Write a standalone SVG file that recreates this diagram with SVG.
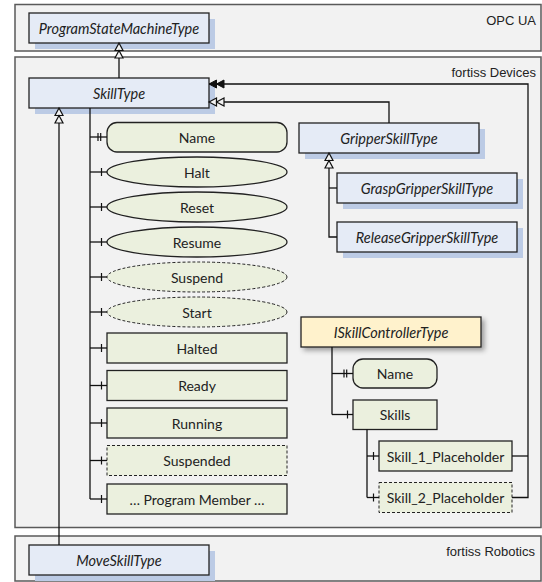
<svg xmlns="http://www.w3.org/2000/svg" width="542" height="582" viewBox="0 0 542 582">
<style>
.cont{fill:#f2f2f2;stroke:#5a5a5a;stroke-width:1.5}
.clabel{font-family:"Liberation Sans",Arial,sans-serif;font-size:13px;fill:#222;text-anchor:end}
.type{fill:#e5ebf6;stroke:#222;stroke-width:1.3}
.shadow{fill:#bccbe5}
.mem{fill:#ebf0de;stroke:#222;stroke-width:1.3}
.dash{stroke-dasharray:3 2;stroke-width:1}
.it{font-family:Lato,"Liberation Sans",sans-serif;font-style:italic;font-size:14.5px;fill:#222;text-anchor:middle;dominant-baseline:central}
.lb{font-family:Lato,"Liberation Sans",sans-serif;font-size:14px;fill:#222;text-anchor:middle;dominant-baseline:central}
.ln{fill:none;stroke:#111;stroke-width:1.3}
</style>
<defs>
<marker id="sub" markerUnits="userSpaceOnUse" markerWidth="20" markerHeight="20" refX="16" refY="10" orient="auto" overflow="visible">
<path d="M16 10L8.5 6V14ZM8.5 10L1 6V14Z" fill="#f2f2f2" stroke="#111" stroke-width="1.2" stroke-linejoin="miter"/>
</marker>
<marker id="ref" markerUnits="userSpaceOnUse" markerWidth="20" markerHeight="20" refX="16" refY="10" orient="auto" overflow="visible">
<path d="M16 10L8.5 6V14ZM8.5 10L1 6V14Z" fill="#111" stroke="#111" stroke-width="1"/>
</marker>
<marker id="prop" markerUnits="userSpaceOnUse" markerWidth="20" markerHeight="20" refX="10" refY="10" orient="auto" overflow="visible">
<path d="M1 6V14M3.7 6V14" stroke="#111" stroke-width="1.2"/>
</marker>
<marker id="comp" markerUnits="userSpaceOnUse" markerWidth="20" markerHeight="20" refX="10" refY="10" orient="auto" overflow="visible">
<path d="M4.5 6V14" stroke="#111" stroke-width="1.2"/>
</marker>
<filter id="ds" x="-10%" y="-30%" width="130%" height="180%">
<feDropShadow dx="3" dy="3" stdDeviation="2.5" flood-color="#000" flood-opacity="0.35"/>
</filter>
</defs>

<g id="opcua">
<rect class="cont" x="15" y="4.5" width="526" height="46.5"/>
<text class="clabel" x="536" y="24.5">OPC UA</text>
</g>
<g id="fortissDevices">
<rect class="cont" x="15" y="57" width="526" height="470.5"/>
<text class="clabel" x="536" y="76.5">fortiss Devices</text>
</g>
<g id="fortissRobotics">
<rect class="cont" x="15" y="536" width="526" height="45"/>
<text class="clabel" x="535" y="555.5">fortiss Robotics</text>
</g>

<g id="ProgramStateMachineType">
<rect class="shadow" x="35" y="19" width="180" height="30"/>
<rect class="type" x="29" y="13" width="180" height="30"/>
<text class="it" x="119" y="28">ProgramStateMachineType</text>
</g>
<g id="SkillType">
<rect class="shadow" x="35" y="84" width="180" height="30"/>
<rect class="type" x="29" y="78" width="180" height="30"/>
<text class="it" x="119" y="93">SkillType</text>
</g>
<g id="GripperSkillType">
<rect class="shadow" x="305" y="129" width="180" height="30"/>
<rect class="type" x="299" y="123" width="180" height="30"/>
<text class="it" x="389" y="138">GripperSkillType</text>
</g>
<g id="GraspGripperSkillType">
<rect class="shadow" x="343" y="179" width="180" height="30"/>
<rect class="type" x="337" y="173" width="180" height="30"/>
<text class="it" x="427" y="188">GraspGripperSkillType</text>
</g>
<g id="ReleaseGripperSkillType">
<rect class="shadow" x="343" y="228" width="180" height="30"/>
<rect class="type" x="337" y="222" width="180" height="30"/>
<text class="it" x="427" y="237">ReleaseGripperSkillType</text>
</g>
<g id="MoveSkillType">
<rect class="shadow" x="35" y="551" width="180" height="30"/>
<rect class="type" x="29" y="545" width="180" height="30"/>
<text class="it" x="119" y="560">MoveSkillType</text>
</g>
<g id="ISkillControllerType">
<rect x="301" y="317" width="180" height="30" fill="#fff2cc" stroke="#222" stroke-width="1.3" filter="url(#ds)"/>
<text class="it" x="391" y="332">ISkillControllerType</text>
</g>

<g id="Name">
<rect class="mem" x="107" y="122.5" width="180" height="29.5" rx="10"/>
<text class="lb" x="197" y="137">Name</text>
</g>
<g id="Halt">
<ellipse class="mem" cx="197" cy="172" rx="90" ry="15"/>
<text class="lb" x="197" y="172">Halt</text>
</g>
<g id="Reset">
<ellipse class="mem" cx="197" cy="207" rx="90" ry="15"/>
<text class="lb" x="197" y="207">Reset</text>
</g>
<g id="Resume">
<ellipse class="mem" cx="197" cy="242" rx="90" ry="15"/>
<text class="lb" x="197" y="242">Resume</text>
</g>
<g id="Suspend">
<ellipse class="mem dash" cx="197" cy="277" rx="90" ry="15"/>
<text class="lb" x="197" y="277">Suspend</text>
</g>
<g id="Start">
<ellipse class="mem dash" cx="197" cy="312" rx="90" ry="15"/>
<text class="lb" x="197" y="312">Start</text>
</g>
<g id="Halted">
<rect class="mem" x="107" y="333" width="180" height="30"/>
<text class="lb" x="197" y="348">Halted</text>
</g>
<g id="Ready">
<rect class="mem" x="107" y="370.5" width="180" height="30"/>
<text class="lb" x="197" y="385.5">Ready</text>
</g>
<g id="Running">
<rect class="mem" x="107" y="408" width="180" height="30"/>
<text class="lb" x="197" y="423">Running</text>
</g>
<g id="Suspended">
<rect class="mem dash" x="107" y="445.5" width="180" height="30"/>
<text class="lb" x="197" y="460.5">Suspended</text>
</g>
<g id="ProgramMember">
<rect class="mem" x="107" y="484" width="180" height="30"/>
<text class="lb" x="197" y="499">… Program Member …</text>
</g>

<g id="CtrlName">
<rect class="mem" x="353" y="359" width="84" height="29" rx="10"/>
<text class="lb" x="395" y="373.5">Name</text>
</g>
<g id="Skills">
<rect class="mem" x="353" y="400" width="84" height="29.5"/>
<text class="lb" x="395" y="414.5">Skills</text>
</g>
<g id="Skill_1_Placeholder">
<rect class="mem" x="379" y="441" width="133" height="30"/>
<text class="lb" x="445.5" y="456">Skill_1_Placeholder</text>
</g>
<g id="Skill_2_Placeholder">
<rect class="mem dash" x="379" y="482.5" width="133" height="30"/>
<text class="lb" x="445.5" y="497.5">Skill_2_Placeholder</text>
</g>

<g id="connectors">
<path class="ln" d="M119 78V43" marker-end="url(#sub)"/>
<path class="ln" d="M59 545V108" marker-end="url(#sub)"/>
<path class="ln" d="M389 123V102H209" marker-end="url(#sub)"/>
<path class="ln" d="M337 237H329V153" marker-end="url(#sub)"/>
<path class="ln" d="M337 188H329"/>
<path class="ln" d="M512 456H528"/>
<path class="ln" d="M512 497.5H528V84H209" marker-end="url(#ref)"/>
<path class="ln" d="M90 108V499"/>
<path class="ln" d="M90 137H107" marker-end="url(#prop)"/>
<path class="ln" d="M90 172H107" marker-end="url(#comp)"/>
<path class="ln" d="M90 207H107" marker-end="url(#comp)"/>
<path class="ln" d="M90 242H107" marker-end="url(#comp)"/>
<path class="ln" d="M90 277H107" marker-end="url(#comp)"/>
<path class="ln" d="M90 312H107" marker-end="url(#comp)"/>
<path class="ln" d="M90 348H107" marker-end="url(#comp)"/>
<path class="ln" d="M90 385.5H107" marker-end="url(#comp)"/>
<path class="ln" d="M90 423H107" marker-end="url(#comp)"/>
<path class="ln" d="M90 460.5H107" marker-end="url(#comp)"/>
<path class="ln" d="M90 499H107" marker-end="url(#comp)"/>
<path class="ln" d="M332 347V414.5"/>
<path class="ln" d="M332 373.5H353" marker-end="url(#prop)"/>
<path class="ln" d="M332 414.5H353" marker-end="url(#comp)"/>
<path class="ln" d="M367 429.5V497.5"/>
<path class="ln" d="M367 456H379" marker-end="url(#comp)"/>
<path class="ln" d="M367 497.5H379" marker-end="url(#comp)"/>
</g>
</svg>
